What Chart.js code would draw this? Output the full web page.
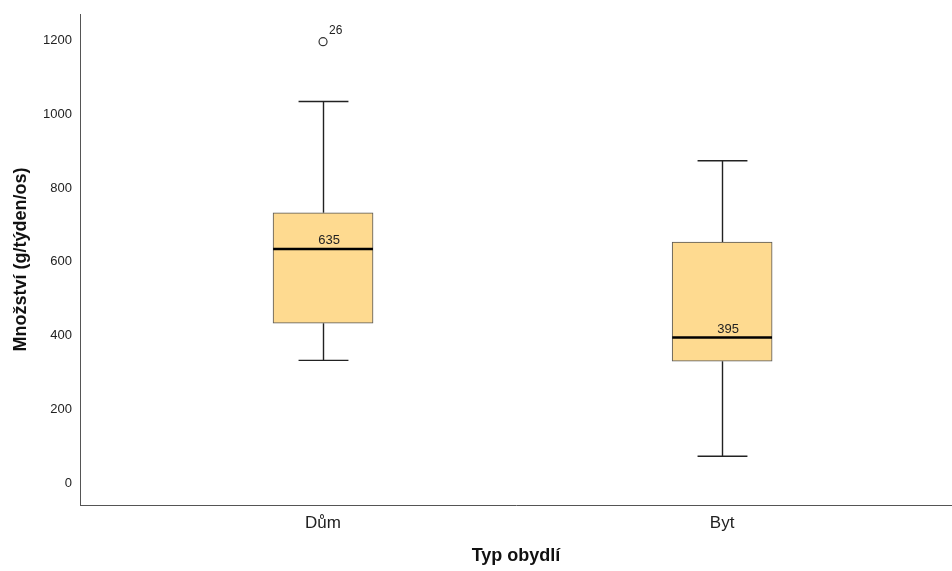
<!DOCTYPE html>
<html>
<head>
<meta charset="utf-8">
<script src="https://cdn.jsdelivr.net/npm/chart.js@4.4.1/dist/chart.umd.min.js"></script>
<style>
html,body{margin:0;padding:0;background:#fff;}
#wrap{width:952px;height:571px;position:relative;}
</style>
</head>
<body>
<div id="wrap"><canvas id="c" width="952" height="571"></canvas></div>
<script>
// ---- data ----
const categories = ["Dům", "Byt"];
const whiskerLow  = [333, 73];
const q1          = [434, 331];
const median      = [635, 395];
const q3          = [733, 654];
const whiskerHigh = [1035, 874];
const outlierCat   = ["Dům"];
const outlierValue = [1197];
const outlierLabel = ["26"];
const yTicks = [0, 200, 400, 600, 800, 1000, 1200];

const xPos = categories.map((c, i) => i + 1);

const boxData = categories.map((c, i) => ({x: xPos[i], y: [q1[i], q3[i]]}));
const outlierData = outlierCat.map((c, i) => ({x: categories.indexOf(c) + 1, y: outlierValue[i]}));

const FONT = '"Liberation Sans", Arial, sans-serif';
const BOX_HALF = 0.125;  // in category units
const CAP_HALF = 0.0625;

const boxPlugin = {
  id: 'boxExtras',
  beforeDatasetsDraw(chart) {
    const {ctx, scales: {x, y}} = chart;
    ctx.save();
    ctx.strokeStyle = '#222';
    ctx.lineWidth = 1.4;
    categories.forEach((c, i) => {
      const cx = Math.round(x.getPixelForValue(xPos[i])) + 0.5;
      const half = x.getPixelForValue(xPos[i] + CAP_HALF) - x.getPixelForValue(xPos[i]);
      const yLo = y.getPixelForValue(whiskerLow[i]);
      const yQ1 = y.getPixelForValue(q1[i]);
      const yQ3 = y.getPixelForValue(q3[i]);
      const yHi = y.getPixelForValue(whiskerHigh[i]);
      ctx.beginPath();
      ctx.moveTo(cx, yLo); ctx.lineTo(cx, yQ1);
      ctx.moveTo(cx, yQ3); ctx.lineTo(cx, yHi);
      ctx.moveTo(cx - half, yLo); ctx.lineTo(cx + half, yLo);
      ctx.moveTo(cx - half, yHi); ctx.lineTo(cx + half, yHi);
      ctx.stroke();
    });
    ctx.restore();
  },
  afterDatasetsDraw(chart) {
    const {ctx, scales: {x, y}} = chart;
    ctx.save();
    categories.forEach((c, i) => {
      const cx = x.getPixelForValue(xPos[i]);
      const half = x.getPixelForValue(xPos[i] + BOX_HALF) - cx;
      const ym = y.getPixelForValue(median[i]);
      ctx.strokeStyle = '#000';
      ctx.lineWidth = 2.4;
      ctx.beginPath();
      ctx.moveTo(cx - half, ym); ctx.lineTo(cx + half, ym);
      ctx.stroke();
      ctx.fillStyle = '#222';
      ctx.font = '13px ' + FONT;
      ctx.textAlign = 'center';
      ctx.textBaseline = 'bottom';
      ctx.fillText(String(median[i]), cx + 6, ym - 2);
    });
    outlierData.forEach((p, i) => {
      const px = x.getPixelForValue(p.x);
      const py = y.getPixelForValue(p.y);
      ctx.fillStyle = '#222';
      ctx.font = '12px ' + FONT;
      ctx.textAlign = 'left';
      ctx.textBaseline = 'bottom';
      ctx.fillText(outlierLabel[i], px + 6, py - 5);
    });
    ctx.restore();
  }
};

new Chart(document.getElementById('c'), {
  data: {
    datasets: [
      {
        type: 'bar',
        data: boxData,
        backgroundColor: '#FEDA90',
        borderColor: '#555',
        borderWidth: 1,
        borderSkipped: false,
        barThickness: 100,
        grouped: false
      },
      {
        type: 'scatter',
        data: outlierData,
        pointRadius: 4,
        pointBackgroundColor: '#fff',
        pointBorderColor: '#333',
        pointBorderWidth: 1.2
      }
    ]
  },
  options: {
    responsive: false,
    animation: false,
    layout: {autoPadding: false, padding: {top: 14, right: 0, left: 0, bottom: 0}},
    plugins: {legend: {display: false}, tooltip: {enabled: false}},
    scales: {
      x: {
        type: 'linear',
        offset: false,
        min: 0.391,
        max: 2.576,
        grid: {display: false, drawTicks: false},
        border: {display: true, color: '#555', width: 1},
        afterBuildTicks: s => { s.ticks = xPos.map(v => ({value: v})); },
        afterFit: s => { s.height = 66; s.paddingRight = 0; s.paddingLeft = 0; },
        ticks: {
          callback: v => categories[v - 1] ?? '',
          color: '#222',
          font: {family: FONT, size: 17},
          padding: 8,
          maxRotation: 0,
          autoSkip: false
        },
        title: {
          display: true,
          text: 'Typ obydlí',
          color: '#111',
          font: {family: FONT, size: 18, weight: 'bold'},
          padding: {top: 4, bottom: 4}
        }
      },
      y: {
        type: 'linear',
        min: -59,
        max: 1272,
        grid: {display: false, drawTicks: false},
        border: {display: true, color: '#555', width: 1},
        afterBuildTicks: s => { s.ticks = yTicks.map(v => ({value: v})); },
        afterFit: s => { s.width = 80; s.paddingTop = 0; s.paddingBottom = 0; },
        ticks: {
          callback: v => String(v),
          color: '#222',
          font: {family: FONT, size: 13},
          padding: 8
        },
        title: {
          display: true,
          text: 'Množství (g/týden/os)',
          color: '#111',
          font: {family: FONT, size: 18, weight: 'bold'},
          padding: {top: 10, bottom: 4}
        }
      }
    }
  },
  plugins: [boxPlugin]
});
</script>
</body>
</html>
